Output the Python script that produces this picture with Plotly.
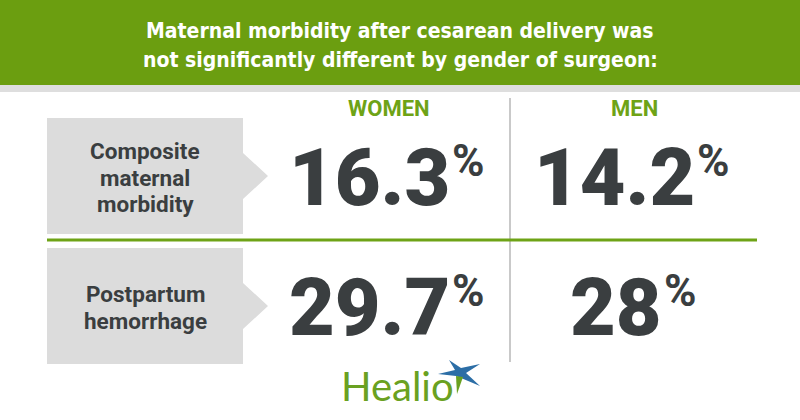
import plotly.graph_objects as go

# ---------------- data ----------------
title_lines = ["Maternal morbidity after cesarean delivery was",
               "not significantly different by gender of surgeon:"]
metrics = [["Composite", "maternal", "morbidity"], ["Postpartum", "hemorrhage"]]
groups = ["WOMEN", "MEN"]
women_pct = [16.3, 29.7]
men_pct = [14.2, 28]
brand = "Healio"

# ---------------- layout / style ----------------
W, H = 800, 420
GREEN_HDR = "#6b9e10"
GREEN = "#6ea316"
DARK = "#3a3e40"
BOX_GRAY = "#dcdcdc"
DIV_GRAY = "#c9c9c9"
NUM_FONT = "Roboto"

row_centers = [176, 306]
col_centers = [389, 634]
box_x0, box_x1, tip_x = 47, 243, 268
box_half = 58
arrow_half = 23
NUM_SIZE = 79
PCT_SIZE = 44
LABEL_SIZE = 22.5
LABEL_STEP = 26.5


def num_width(s, size):
    w = 0.0
    for ch in s:
        w += 0.277 if ch == "." else 0.562
    return w * size


fig = go.Figure()
shapes = []
annotations = []

# header band
shapes.append(dict(type="rect", x0=0, x1=W, y0=0, y1=85, fillcolor=GREEN_HDR, line_width=0, layer="below"))
shapes.append(dict(type="rect", x0=0, x1=W, y0=85, y1=92, fillcolor="#dedede", line_width=0, layer="below"))
for i, line in enumerate(title_lines):
    annotations.append(dict(
        x=400, y=31 + i * 28.5, xref="x", yref="y", xanchor="center", yanchor="middle",
        text=line, showarrow=False, align="center",
        font=dict(family="Liberation Sans Narrow, DejaVu Sans Condensed, Roboto", size=21, color="white", weight="bold"),
    ))

# column headers
for g, cx in zip(groups, col_centers):
    annotations.append(dict(
        x=cx, y=108, xref="x", yref="y", xanchor="center", yanchor="middle",
        text=g, showarrow=False,
        font=dict(family="Roboto", size=22, color=GREEN, weight="bold"),
    ))

# divider lines
shapes.append(dict(type="line", x0=510, x1=510, y0=98, y1=362, line=dict(color=DIV_GRAY, width=2)))
shapes.append(dict(type="line", x0=47, x1=757, y0=240, y1=240, line=dict(color=GREEN, width=3)))

values = [women_pct, men_pct]
for r, (label_lines, cy) in enumerate(zip(metrics, row_centers)):
    # label box with arrow
    path = (f"M{box_x0},{cy - box_half} L{box_x1},{cy - box_half} L{box_x1},{cy - arrow_half} "
            f"L{tip_x},{cy} L{box_x1},{cy + arrow_half} L{box_x1},{cy + box_half} "
            f"L{box_x0},{cy + box_half} Z")
    shapes.append(dict(type="path", path=path, fillcolor=BOX_GRAY, line_width=0, layer="below"))
    n = len(label_lines)
    for i, line in enumerate(label_lines):
        annotations.append(dict(
            x=(box_x0 + box_x1) / 2, y=cy + 1.5 + (i - (n - 1) / 2) * LABEL_STEP,
            xref="x", yref="y", xanchor="center", yanchor="middle",
            text=line, showarrow=False,
            font=dict(family="Roboto", size=LABEL_SIZE, color=DARK, weight="bold"),
        ))
    for c, cx in enumerate(col_centers):
        s = f"{values[c][r]:g}"
        wn = num_width(s, NUM_SIZE)
        total = wn + 31
        anchor = cx - total / 2 + wn
        annotations.append(dict(
            x=anchor + 1, y=cy + 1.5, xref="x", yref="y", xanchor="right", yanchor="middle",
            text=s, showarrow=False,
            font=dict(family=NUM_FONT, size=NUM_SIZE, color=DARK, weight=900),
        ))
        annotations.append(dict(
            x=anchor - 1, y=cy - 15, xref="x", yref="y", xanchor="left", yanchor="middle",
            text="%", showarrow=False,
            font=dict(family=NUM_FONT, size=PCT_SIZE, color=DARK, weight="bold"),
        ))

# logo
annotations.append(dict(
    x=397, y=386, xref="x", yref="y", xanchor="center", yanchor="middle",
    text=brand, showarrow=False,
    font=dict(family="Lato, Open Sans", size=40, color="#6aa121"),
))
blue_star = ("M449,360 L461,368 L480,364 L466,373 L480,386 L461,378 "
             "L456,376 L438,374 L455,370 Z")
shapes.append(dict(type="path", path=blue_star, fillcolor="#2c6ea6", line_width=0))
shapes.append(dict(type="path", path="M456,376 L463,377 L457,394 Z", fillcolor="#6aa121", line_width=0))

fig.update_layout(
    width=W, height=H, margin=dict(l=0, r=0, t=0, b=0),
    paper_bgcolor="white", plot_bgcolor="white",
    xaxis=dict(range=[0, W], visible=False, fixedrange=True),
    yaxis=dict(range=[H, 0], visible=False, fixedrange=True),
    shapes=shapes, annotations=annotations, showlegend=False,
)
fig.write_html("out.html", config={"displayModeBar": False},
               post_script="document.body.style.margin='0';")
